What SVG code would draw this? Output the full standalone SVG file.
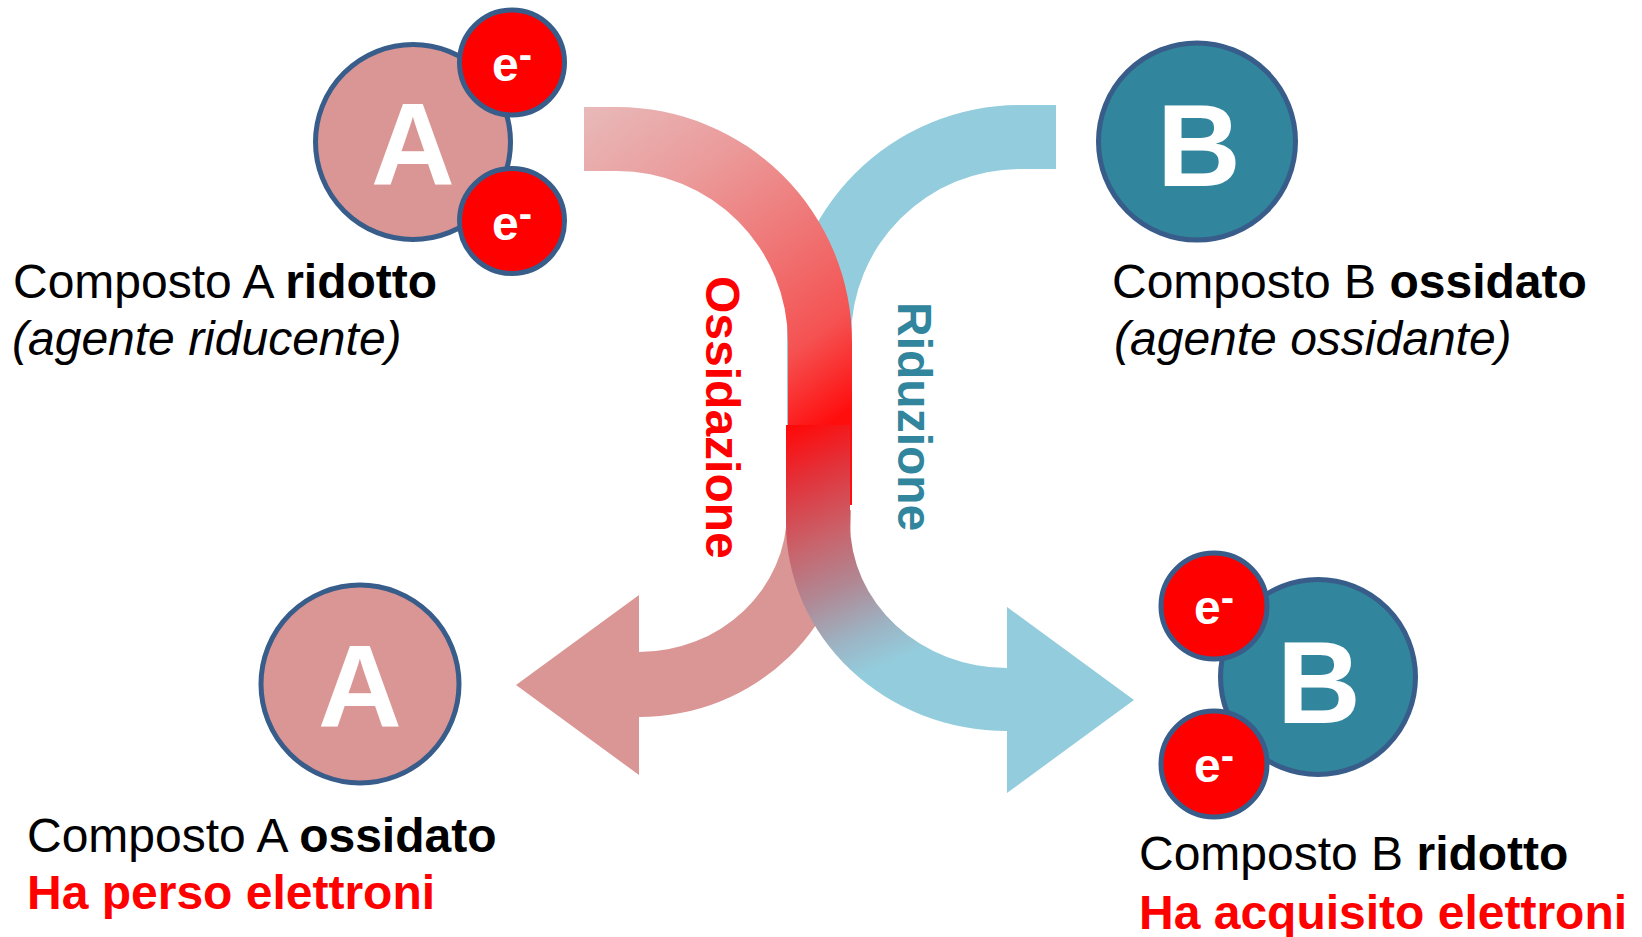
<svg xmlns="http://www.w3.org/2000/svg" width="1642" height="937" viewBox="0 0 1642 937">
<style>
.t{font-family:"Liberation Sans",Arial,sans-serif;font-size:48px;fill:#000}
.b{font-weight:bold}
.i{font-style:italic}
.red{fill:#FF0000;font-weight:bold}
.big{font-family:"Liberation Sans",Arial,sans-serif;font-size:116px;font-weight:bold;fill:#FFFFFF;text-anchor:middle}
.el{font-family:"Liberation Sans",Arial,sans-serif;font-size:48px;font-weight:bold;fill:#FFFFFF;text-anchor:middle}
.ca{fill:#D99694;stroke:#385D8A;stroke-width:5}
.cb{fill:#31859C;stroke:#385D8A;stroke-width:5}
.ce{fill:#FF0000;stroke:#385D8A;stroke-width:5}
.lab{font-family:"Liberation Sans",Arial,sans-serif;font-size:48px;font-weight:bold}
</style>
<defs>
<linearGradient id="gTop" gradientUnits="userSpaceOnUse" x1="590" y1="100" x2="820" y2="430">
<stop offset="0" stop-color="#E8BABA"/>
<stop offset="0.3" stop-color="#EB9A9A"/>
<stop offset="0.6" stop-color="#F07070"/>
<stop offset="0.8" stop-color="#F55252"/>
<stop offset="1" stop-color="#FF0E0E"/>
</linearGradient>
<linearGradient id="gLow" gradientUnits="userSpaceOnUse" x1="800" y1="425" x2="900" y2="660">
<stop offset="0" stop-color="#FF0A0A"/>
<stop offset="0.2" stop-color="#E2323A"/>
<stop offset="0.45" stop-color="#C8646C"/>
<stop offset="0.65" stop-color="#B08894"/>
<stop offset="0.85" stop-color="#9CB4C4"/>
<stop offset="1" stop-color="#93CDDD"/>
</linearGradient>
</defs>
<rect width="1642" height="937" fill="#FFFFFF"/>

<g id="connectors">
<path id="riduzione-top" d="M 1056 105 L 1020 105 A 233 233 0 0 0 787 338 L 787 505 L 851 505 L 851 338 A 169 169 0 0 1 1020 169 L 1056 169 Z" fill="#93CDDD"/>
<path id="riduzione-bottom" d="M 787 510 L 787 512 A 148 140 0 0 1 639 652 L 639 595 L 516 685 L 639 775 L 639 717 A 212 205 0 0 0 851 512 L 851 510 Z" fill="#D99694"/>
<path id="ossidazione-top" d="M 584 107 L 617 107 A 235 235 0 0 1 852 342 L 852 505 L 788 505 L 788 342 A 171 171 0 0 0 617 171 L 584 171 Z" fill="url(#gTop)"/>
<path id="ossidazione-bottom" d="M 786 425 L 786 523 A 221 208 0 0 0 1007 731 L 1007 793 L 1134 700 L 1007 607 L 1007 668 A 157 145 0 0 1 850 523 L 850 425 Z" fill="url(#gLow)"/>
<text class="lab" fill="#FF0000" transform="translate(706,276) rotate(90)">Ossidazione</text>
<text class="lab" fill="#31859C" transform="translate(898,302) rotate(90)">Riduzione</text>
</g>

<g id="A-ridotto">
<circle class="ca" cx="413" cy="142" r="97.5"/>
<text class="big" x="413" y="185">A</text>
<circle class="ce" cx="512" cy="62.5" r="52.5"/>
<text class="el" x="512" y="81">e<tspan font-size="40" dy="-13">-</tspan></text>
<circle class="ce" cx="512" cy="221" r="52.5"/>
<text class="el" x="512" y="239.5">e<tspan font-size="40" dy="-13">-</tspan></text>
<text class="t" x="13" y="298">Composto A <tspan class="b">ridotto</tspan></text>
<text class="t i" x="12" y="355">(agente riducente)</text>
</g>

<g id="B-ossidato">
<circle class="cb" cx="1197" cy="141.5" r="98.5"/>
<text class="big" x="1199" y="186">B</text>
<text class="t" x="1112" y="298">Composto B <tspan class="b">ossidato</tspan></text>
<text class="t i" x="1114" y="355">(agente ossidante)</text>
</g>

<g id="A-ossidato">
<circle class="ca" cx="360" cy="684" r="99"/>
<text class="big" x="360" y="727">A</text>
<text class="t" x="27" y="852">Composto A <tspan class="b">ossidato</tspan></text>
<text class="t red" x="27" y="909">Ha perso elettroni</text>
</g>

<g id="B-ridotto">
<circle class="cb" cx="1318" cy="677" r="97.5"/>
<text class="big" x="1319" y="723">B</text>
<circle class="ce" cx="1214" cy="606" r="53"/>
<text class="el" x="1214" y="624">e<tspan font-size="40" dy="-13">-</tspan></text>
<circle class="ce" cx="1214" cy="764" r="53"/>
<text class="el" x="1214" y="782">e<tspan font-size="40" dy="-13">-</tspan></text>
<text class="t" x="1139" y="870">Composto B <tspan class="b">ridotto</tspan></text>
<text class="t red" x="1139" y="929">Ha acquisito elettroni</text>
</g>
</svg>
